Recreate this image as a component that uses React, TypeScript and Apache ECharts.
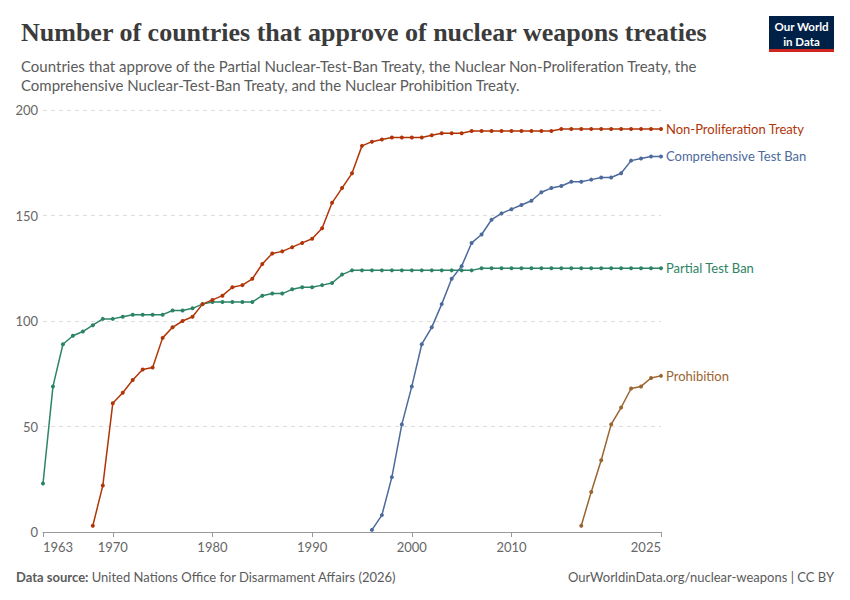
import { useEffect, useRef } from 'react';
import * as echarts from 'echarts';

const years: number[] = [];
for (let y = 1963; y <= 2025; y++) years.push(y);

// Values, one per year from the first ratification
const partialYears = years;
const partialValues = [
  23, 69, 89, 93, 95, 98, 101, 101, 102, 103, 103, 103, 103, 105, 105, 106, 108, 109, 109, 109,
  109, 109, 112, 113, 113, 115, 116, 116, 117, 118, 122, 124, 124, 124, 124, 124, 124, 124, 124,
  124, 124, 124, 124, 124, 125, 125, 125, 125, 125, 125, 125, 125, 125, 125, 125, 125, 125, 125,
  125, 125, 125, 125, 125,
];

const nptStart = 1968;
const nptValues = [
  3, 22, 61, 66, 72, 77, 78, 92, 97, 100, 102, 108, 110, 112, 116, 117, 120, 127, 132, 133, 135,
  137, 139, 144, 156, 163, 170, 183, 185, 186, 187, 187, 187, 187, 188, 189, 189, 189, 190, 190,
  190, 190, 190, 190, 190, 190, 190, 191, 191, 191, 191, 191, 191, 191, 191, 191, 191, 191,
];

const ctbtStart = 1996;
const ctbtValues = [
  1, 8, 26, 51, 69, 89, 97, 108, 120, 126, 137, 141, 148, 151, 153, 155, 157, 161, 163, 164, 166,
  166, 167, 168, 168, 170, 176, 177, 178, 178,
];

const tpnwStart = 2017;
const tpnwValues = [3, 19, 34, 51, 59, 68, 69, 73, 74];

const xLabels = [1963, 1970, 1980, 1990, 2000, 2010, 2025];
const yTicks = [0, 50, 100, 150, 200];

const pairs = (start: number, vals: number[]) => vals.map((v, i) => [start + i, v]);

const FONT = 'Lato, "Noto Sans", sans-serif';

export default function App() {
  const ref = useRef<HTMLDivElement>(null);

  useEffect(() => {
    document.body.style.margin = '0';
    if (!ref.current) return;
    const chart = echarts.init(ref.current, undefined, { renderer: 'svg' });

    const mk = (name: string, color: string, data: number[][]) => ({
      name,
      type: 'line',
      data,
      symbol: 'circle',
      symbolSize: 4,
      showSymbol: true,
      lineStyle: { color, width: 1.5 },
      itemStyle: { color },
      emphasis: { disabled: true },
      endLabel: {
        show: true,
        formatter: name,
        color,
        fontFamily: FONT,
        fontSize: 13,
        distance: 5,
      },
    });

    chart.setOption({
      animation: false,
      textStyle: { fontFamily: FONT },
      title: [
        {
          text: 'Number of countries that approve of nuclear weapons treaties',
          left: 16,
          top: 14,
          textStyle: {
            fontFamily: '"Liberation Serif", "DejaVu Serif", serif',
            fontWeight: 'bold',
            fontSize: 26,
            color: '#3b3b3b',
          },
        },
        {
          text:
            'Countries that approve of the Partial Nuclear-Test-Ban Treaty, the Nuclear Non-Proliferation Treaty, the\nComprehensive Nuclear-Test-Ban Treaty, and the Nuclear Prohibition Treaty.',
          left: 16,
          top: 51,
          textStyle: {
            fontFamily: FONT,
            fontWeight: 'normal',
            fontSize: 15,
            lineHeight: 19,
            color: '#5b5b5b',
          },
        },
      ],
      grid: { left: 43, right: 189, top: 110, bottom: 68, containLabel: false },
      xAxis: {
        type: 'value',
        min: 1963,
        max: 2025,
        axisLine: { show: true, lineStyle: { color: '#999' } },
        axisTick: { show: true, customValues: xLabels, length: 5, lineStyle: { color: '#999' } },
        axisLabel: {
          customValues: xLabels,
          formatter: (v: number) => String(v),
          color: '#666',
          fontSize: 13,
          fontFamily: FONT,
          margin: 8,
          alignMinLabel: 'left',
          alignMaxLabel: 'right',
        },
        splitLine: { show: false },
      },
      yAxis: {
        type: 'value',
        min: 0,
        max: 200,
        interval: 50,
        axisLine: { show: false },
        axisTick: { show: false },
        axisLabel: {
          customValues: yTicks,
          color: '#666',
          fontSize: 13,
          fontFamily: FONT,
          margin: 5,
        },
        splitLine: { show: true, lineStyle: { color: '#ddd', type: [4, 4] } },
      },
      series: [
        mk('Partial Test Ban', '#2c8465', pairs(partialYears[0], partialValues)),
        mk('Non-Proliferation Treaty', '#b13507', pairs(nptStart, nptValues)),
        mk('Comprehensive Test Ban', '#4c6a9c', pairs(ctbtStart, ctbtValues)),
        mk('Prohibition', '#9a652e', pairs(tpnwStart, tpnwValues)),
      ],
      graphic: [
        {
          type: 'group',
          left: 769,
          top: 16,
          children: [
            { type: 'rect', shape: { x: 0, y: 0, width: 65, height: 33 }, style: { fill: '#002147' } },
            { type: 'rect', shape: { x: 0, y: 33, width: 65, height: 3 }, style: { fill: '#ce261e' } },
            {
              type: 'text',
              x: 32.5,
              y: 4,
              style: {
                text: 'Our World',
                fill: '#fff',
                fontFamily: FONT,
                fontWeight: 'bold',
                fontSize: 11.5,
                align: 'center',
              },
            },
            {
              type: 'text',
              x: 32.5,
              y: 19,
              style: {
                text: 'in Data',
                fill: '#fff',
                fontFamily: FONT,
                fontWeight: 'bold',
                fontSize: 11.5,
                align: 'center',
              },
            },
          ],
        },
        {
          type: 'text',
          left: 16,
          top: 570,
          style: {
            text: '{b|Data source:} United Nations Office for Disarmament Affairs (2026)',
            fill: '#5b5b5b',
            fontFamily: FONT,
            fontSize: 13,
            rich: { b: { fontWeight: 'bold', fill: '#5b5b5b', fontFamily: FONT, fontSize: 13 } },
          },
        },
        {
          type: 'text',
          right: 16,
          top: 570,
          style: {
            text: 'OurWorldinData.org/nuclear-weapons | CC BY',
            fill: '#5b5b5b',
            fontFamily: FONT,
            fontSize: 13,
          },
        },
      ],
    });

    return () => chart.dispose();
  }, []);

  return <div ref={ref} style={{ width: 850, height: 600 }} />;
}
